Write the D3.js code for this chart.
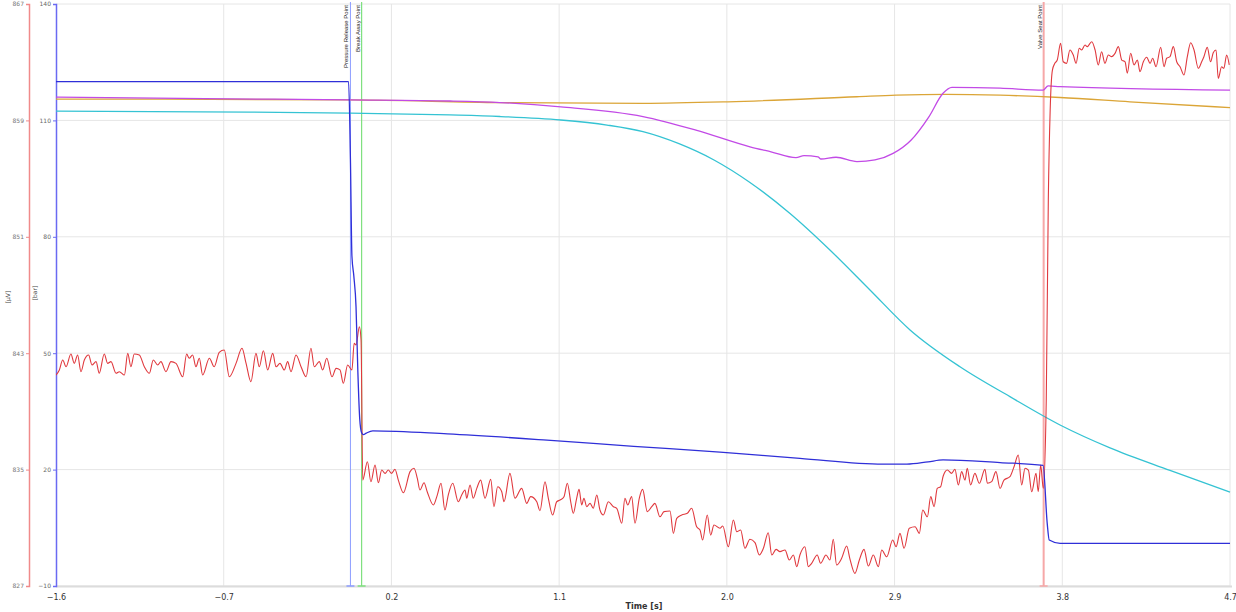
<!DOCTYPE html>
<html><head><meta charset="utf-8">
<script src="https://cdn.jsdelivr.net/npm/d3@7"></script>
<style>html,body{margin:0;padding:0;background:#fff;}svg{display:block;}</style>
</head><body>
<svg id="chart" width="1236" height="612"></svg>
<script>
// ---------- data ----------
const xTicks = [-1.6, -0.7, 0.2, 1.1, 2.0, 2.9, 3.8, 4.7];
const barTicks = [-10, 20, 50, 80, 110, 140];
const uvTicks = [827, 835, 843, 851, 859, 867];
const xTitle = "Time [s]";
const barTitle = "[bar]";
const uvTitle = "[µV]";

const markerLabels = ["Pressure Release Point", "Break Away Point", "Valve Seat Point"];
const markerTimes = [-0.02, 0.04, 3.70];

// dark blue (bar axis)
const blueTime = [-1.6, -0.03, -0.02, -0.012, -0.002, 0.01, 0.02, 0.03, 0.04, 0.05, 0.065, 0.1, 0.5, 1.035, 1.5, 1.963, 2.392, 2.837, 2.966, 3.08, 3.16, 3.466, 3.697, 3.719, 3.730, 3.788, 4.7];
const blueValue = [120.0, 120.0, 100, 75, 70, 62, 45, 33, 29.5, 29.0, 29.4, 30.0, 29.2, 27.6, 26.0, 24.5, 22.9, 21.4, 21.4, 22.0, 22.5, 21.8, 21.1, 6.2, 1.85, 1.0, 1.0];

// cyan (bar axis)
const cyanTime = [-1.6, -0.827, -0.022, 0.514, 0.782, 1.109, 1.357, 1.550, 1.743, 1.931, 2.124, 2.339, 2.553, 2.768, 2.983, 3.251, 3.519, 3.788, 4.056, 4.378, 4.7];
const cyanValue = [112.4, 112.2, 111.9, 111.4, 111.0, 110.1, 108.8, 107.1, 104.0, 99.8, 94.0, 86.0, 76.6, 66.3, 56.0, 46.5, 38.8, 31.5, 25.6, 19.8, 14.2];

// purple (bar axis)
const purpleTime = [-1.6, -0.8, -0.022, 0.514, 0.782, 1.109, 1.550, 1.834, 2.124, 2.237, 2.371, 2.414, 2.489, 2.505, 2.586, 2.698, 2.795, 2.892, 2.988, 3.085, 3.160, 3.208, 3.466, 3.697, 3.724, 3.788, 4.7];
const purpleValue = [116.0, 115.6, 115.3, 115.0, 114.6, 113.5, 111.0, 107.5, 103.2, 101.9, 100.4, 100.9, 100.6, 100.05, 100.5, 99.4, 99.8, 101.5, 104.9, 111.0, 117.0, 118.5, 118.3, 117.8, 118.9, 118.7, 117.8];

// orange (bar axis)
const orangeTime = [-1.6, -0.022, 0.782, 1.550, 2.006, 2.698, 2.908, 3.176, 3.466, 3.788, 4.163, 4.7];
const orangeValue = [115.5, 115.3, 114.6, 114.4, 114.8, 116.1, 116.5, 116.7, 116.5, 115.9, 114.8, 113.3];

// red (µV axis)
const redTime = [-1.600, -1.582, -1.564, -1.546, -1.520, -1.502, -1.484, -1.466, -1.448, -1.425, -1.407, -1.385, -1.368, -1.341, -1.323, -1.305, -1.278, -1.260, -1.233, -1.215, -1.198, -1.180, -1.153, -1.126, -1.099, -1.078, -1.054, -1.037, -1.010, -0.983, -0.956, -0.920, -0.899, -0.885, -0.867, -0.849, -0.831, -0.813, -0.777, -0.751, -0.724, -0.697, -0.670, -0.634, -0.602, -0.580, -0.554, -0.527, -0.509, -0.487, -0.464, -0.437, -0.419, -0.398, -0.375, -0.357, -0.339, -0.312, -0.285, -0.258, -0.232, -0.214, -0.187, -0.169, -0.147, -0.119, -0.097, -0.076, -0.058, -0.035, -0.012, 0.000, 0.010, 0.028, 0.037, 0.046,
0.071, 0.090, 0.112, 0.130, 0.148, 0.166, 0.183, 0.201, 0.219, 0.237, 0.264, 0.300, 0.321, 0.339, 0.353, 0.375, 0.392, 0.425, 0.446, 0.466, 0.487, 0.505, 0.529, 0.559, 0.577, 0.595, 0.604, 0.622, 0.639, 0.658, 0.679, 0.702, 0.733, 0.750, 0.770, 0.792, 0.804, 0.836, 0.863, 0.899, 0.926, 0.947, 0.980, 0.997, 1.024, 1.042, 1.065, 1.087, 1.105, 1.126, 1.144, 1.162, 1.176, 1.194, 1.207, 1.221, 1.233, 1.248, 1.266, 1.283, 1.302, 1.319, 1.337, 1.364, 1.391, 1.409, 1.436, 1.453, 1.468, 1.489, 1.507, 1.530, 1.548, 1.573, 1.597, 1.614, 1.641, 1.663, 1.695, 1.713, 1.731, 1.758, 1.788, 1.811, 1.838, 1.856, 1.870, 1.895, 1.913, 1.931, 1.963, 1.978, 2.008, 2.035, 2.053, 2.074, 2.097, 2.124, 2.151, 2.174, 2.196, 2.222, 2.241, 2.264, 2.285, 2.312, 2.335, 2.357, 2.375, 2.392, 2.419, 2.437, 2.455, 2.485, 2.503, 2.532, 2.553, 2.571, 2.589, 2.616, 2.643, 2.661, 2.687, 2.711, 2.736, 2.759, 2.786, 2.813, 2.831, 2.858, 2.890, 2.908, 2.929, 2.951, 2.979, 3.010, 3.033, 3.051, 3.076, 3.094, 3.112, 3.129, 3.147, 3.161, 3.183, 3.206, 3.224, 3.242, 3.260, 3.278, 3.290, 3.308, 3.331, 3.355, 3.385, 3.398, 3.421, 3.444, 3.466, 3.487, 3.519, 3.541, 3.564, 3.582, 3.600, 3.618, 3.636, 3.659, 3.671, 3.684, 3.698, 3.714, 3.725, 3.735, 3.747,
3.760, 3.773, 3.791, 3.805, 3.823, 3.841, 3.859, 3.874, 3.891, 3.904, 3.922, 3.934, 3.958, 3.976, 3.993, 4.011, 4.029, 4.047, 4.065, 4.083, 4.101, 4.119, 4.137, 4.149, 4.167, 4.185, 4.203, 4.217, 4.235, 4.253, 4.271, 4.285, 4.303, 4.328, 4.346, 4.360, 4.378, 4.396, 4.414, 4.432, 4.453, 4.471, 4.489, 4.507, 4.530, 4.548, 4.560, 4.578, 4.596, 4.610, 4.625, 4.637, 4.655, 4.667, 4.682, 4.696];
const redValue = [841.50, 841.85, 842.53, 842.07, 842.94, 842.30, 842.88, 841.73, 842.53, 842.88, 842.19, 842.42, 841.62, 842.94, 842.30, 842.42, 841.62, 841.73, 841.50, 842.99, 842.07, 842.94, 842.88, 842.07, 841.62, 842.53, 842.19, 842.42, 841.73, 842.42, 842.30, 841.38, 842.94, 842.65, 842.88, 842.07, 842.65, 841.50, 842.65, 842.07, 843.06, 843.22, 841.38, 842.30, 843.34, 842.30, 841.04, 842.99, 842.07, 843.17, 841.85, 842.99, 842.07, 842.30, 841.85, 842.42, 841.73, 842.88, 842.07, 841.38, 843.34, 842.07, 842.42, 841.85, 842.65, 841.38, 841.96, 841.85, 840.93, 842.19, 841.85, 843.68, 843.56, 844.82, 843.91, 834.28,
835.54, 834.17, 835.32, 834.10, 834.97, 834.74, 834.97, 834.74, 835.02, 834.28, 833.41, 834.86, 835.09, 834.40, 833.60, 834.10, 833.48, 832.57, 833.25, 834.06, 832.22, 833.25, 834.06, 832.79, 833.25, 833.60, 833.03, 833.94, 833.03, 833.71, 834.28, 833.03, 834.33, 832.45, 833.82, 833.48, 832.79, 834.74, 833.03, 833.71, 832.68, 833.14, 832.79, 832.17, 834.17, 833.03, 831.88, 832.79, 832.91, 833.14, 834.06, 832.79, 832.00, 833.03, 833.64, 832.57, 833.03, 832.45, 832.68, 832.34, 833.25, 832.22, 831.88, 832.79, 832.45, 832.34, 831.31, 833.03, 832.57, 833.14, 831.31, 833.03, 833.64, 832.11, 832.45, 832.68, 831.76, 832.11, 832.15, 830.62, 831.65, 831.88, 832.00, 832.34, 831.07, 830.85, 830.16, 831.88, 830.50, 831.19, 830.97, 831.12, 829.70, 831.54, 830.73, 830.85, 829.59, 830.21, 829.98, 829.13, 829.59, 830.66, 829.13, 829.52, 829.36, 829.47, 828.79, 829.13, 828.33, 829.13, 829.70, 828.33, 828.56, 829.13, 828.56, 829.13, 828.79, 830.21, 828.44, 828.90, 829.75, 828.83, 827.87, 828.79, 829.52, 828.37, 829.13, 828.33, 829.47, 829.01, 830.16, 829.70, 830.62, 829.59, 830.97, 831.07, 830.62, 832.22, 831.76, 833.14, 832.45, 833.71, 833.82, 834.56, 834.97, 834.74, 835.02, 833.94, 834.86, 834.28, 835.09, 833.94, 834.74, 834.06, 835.02, 834.06, 834.17, 834.86, 833.71, 834.28, 834.51, 835.20, 836.00, 833.94, 835.09, 834.97, 833.48, 834.74, 833.48, 835.32, 833.71, 839.78, 853.53, 859.71, 862.46,
862.92, 863.15, 864.30, 863.03, 862.92, 863.84, 863.49, 862.92, 863.96, 863.84, 864.18, 864.07, 864.41, 863.84, 862.81, 863.72, 862.92, 863.49, 863.38, 863.61, 864.07, 863.15, 863.03, 862.24, 863.61, 862.81, 863.15, 862.35, 863.03, 863.34, 862.92, 863.27, 862.69, 864.02, 862.69, 863.27, 863.38, 864.07, 863.03, 862.69, 862.12, 863.38, 864.34, 863.84, 862.58, 863.03, 863.38, 864.02, 863.03, 863.65, 863.84, 861.89, 862.69, 862.58, 863.49, 862.81];

// ---------- drawing ----------
const svg = d3.select("#chart");
const L = 56, R = 1230, T = 4, B = 586, uvAxisX = 29;
const x = d3.scaleLinear().domain([-1.6, 4.7]).range([L, R]);
const yBar = d3.scaleLinear().domain([-10, 140]).range([B, T]);
const yUv = d3.scaleLinear().domain([827, 867]).range([B, T]);
const FONT = "'DejaVu Sans', Verdana, sans-serif";

// grid
const grid = svg.append("g");
grid.selectAll("line.h").data(barTicks).join("line")
  .attr("x1", L).attr("x2", R).attr("y1", d => yBar(d)).attr("y2", d => yBar(d))
  .attr("stroke", "#e6e6e6").attr("stroke-width", 1);
grid.selectAll("line.v").data(xTicks.slice(1)).join("line")
  .attr("x1", d => x(d)).attr("x2", d => x(d)).attr("y1", T).attr("y2", B)
  .attr("stroke", "#e6e6e6").attr("stroke-width", 1);
svg.append("line").attr("x1", L).attr("x2", R + 2).attr("y1", B + 0.5).attr("y2", B + 0.5)
  .attr("stroke", "#dcdcdc").attr("stroke-width", 2);

// x axis
const xAxis = d3.axisBottom(x).tickValues(xTicks).tickFormat(d3.format(".1f")).tickSize(0).tickPadding(8);
const gx = svg.append("g").attr("transform", `translate(0,${B})`).call(xAxis);
gx.select(".domain").remove();
gx.selectAll("text").attr("font-family", FONT).attr("font-size", 8).attr("fill", "#333");

svg.append("text").attr("x", 644).attr("y", 609).attr("text-anchor", "middle")
  .attr("font-family", FONT).attr("font-size", 8).attr("font-weight", "bold").attr("fill", "#333").text(xTitle);

// bar axis (blue)
const barAxis = d3.axisLeft(yBar).tickValues(barTicks).tickSize(3).tickPadding(2);
const gb = svg.append("g").attr("transform", `translate(${L},0)`).call(barAxis);
gb.select(".domain").attr("stroke", "#6a6af2").attr("stroke-width", 1.5);
gb.selectAll(".tick line").attr("stroke", "#6a6af2");
gb.selectAll("text").attr("font-family", FONT).attr("font-size", 6).attr("fill", "#666");

// uV axis (red)
const uvAxis = d3.axisLeft(yUv).tickValues(uvTicks).tickSize(3).tickPadding(2);
const gu = svg.append("g").attr("transform", `translate(${uvAxisX},0)`).call(uvAxis);
gu.select(".domain").attr("stroke", "#f08a8a").attr("stroke-width", 1.5);
gu.selectAll(".tick line").attr("stroke", "#f08a8a");
gu.selectAll("text").attr("font-family", FONT).attr("font-size", 6).attr("fill", "#777");

svg.append("text").attr("transform", `translate(10,${297}) rotate(-90)`).attr("text-anchor", "middle")
  .attr("font-family", FONT).attr("font-size", 6).attr("fill", "#444").text(uvTitle);
svg.append("text").attr("transform", `translate(37,${293}) rotate(-90)`).attr("text-anchor", "middle")
  .attr("font-family", FONT).attr("font-size", 6).attr("fill", "#444").text(barTitle);

// markers
const markerColors = ["#8c9cff", "#7fe07f", "#f6a8a8"];
const markerWidths = [1, 1.2, 2];
markerTimes.forEach((t, i) => {
  const mx = x(t);
  svg.append("line").attr("x1", mx).attr("x2", mx).attr("y1", T - 2).attr("y2", B)
    .attr("stroke", markerColors[i]).attr("stroke-width", markerWidths[i]);
  svg.append("line").attr("x1", mx - 4).attr("x2", mx + 4).attr("y1", B).attr("y2", B)
    .attr("stroke", markerColors[i]).attr("stroke-width", 1.5);
  svg.append("text").attr("transform", `translate(${mx - 2},${T + 1}) rotate(-90)`)
    .attr("text-anchor", "end").attr("font-family", "'Liberation Sans', Arial, sans-serif")
    .attr("font-size", 6).attr("fill", "#222").text(markerLabels[i]);
});

// series
svg.append("clipPath").attr("id", "clip").append("rect")
  .attr("x", L).attr("y", T - 2).attr("width", R - L + 2).attr("height", B - T + 2);
const plot = svg.append("g").attr("clip-path", "url(#clip)");

function drawSeries(times, vals, yScale, color, width, curve) {
  const data = times.map((t, i) => [t, vals[i]]);
  plot.append("path").datum(data)
    .attr("fill", "none").attr("stroke", color).attr("stroke-width", width)
    .attr("stroke-linejoin", "round")
    .attr("d", d3.line().x(d => x(d[0])).y(d => yScale(d[1])).curve(curve));
}
drawSeries(orangeTime, orangeValue, yBar, "#dba537", 1.3, d3.curveMonotoneX);
drawSeries(cyanTime, cyanValue, yBar, "#35c3d3", 1.3, d3.curveMonotoneX);
drawSeries(purpleTime, purpleValue, yBar, "#c24ae6", 1.3, d3.curveMonotoneX);
drawSeries(redTime, redValue, yUv, "#e0393e", 1.1, d3.curveMonotoneX);
drawSeries(blueTime, blueValue, yBar, "#2f2fd8", 1.3, d3.curveMonotoneX);
</script>
</body></html>
